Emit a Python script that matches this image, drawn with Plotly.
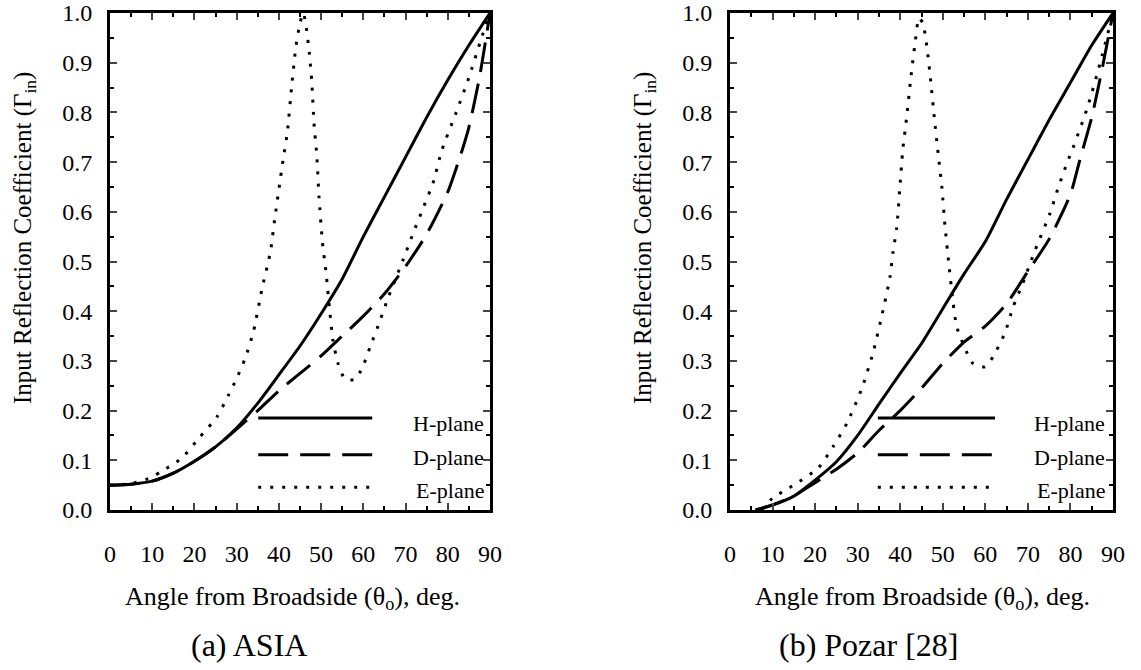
import plotly.graph_objects as go

# ---------------- data ----------------
# Panel (a) ASIA
h_a_x = [0, 5, 10, 15, 20, 25, 30, 35, 40, 45, 50, 55, 60, 65, 70, 75, 80, 85, 90]
h_a_y = [0.05, 0.052, 0.058, 0.074, 0.098, 0.127, 0.165, 0.215, 0.272, 0.33, 0.395, 0.465, 0.55, 0.63, 0.71, 0.79, 0.865, 0.935, 1.0]

d_a_x = [0, 5, 10, 15, 20, 25, 30, 35, 40, 45, 50, 55, 60, 65, 70, 75, 80, 83.4, 85, 87.5, 90]
d_a_y = [0.05, 0.052, 0.058, 0.074, 0.098, 0.127, 0.163, 0.2, 0.24, 0.275, 0.31, 0.35, 0.39, 0.435, 0.49, 0.555, 0.64, 0.724, 0.77, 0.87, 1.0]

e_a_x = [0, 5, 10, 12, 15, 17.3, 21.3, 25.3, 28, 30, 32, 34, 36, 38, 39, 40, 41, 42, 43, 44, 45, 45.8,
         46.5, 47.2, 47.8, 48.3, 49, 49.5, 50.3, 51.2, 52.1, 52.8, 54, 55.7, 58, 59.7, 61.6, 64, 66,
         69.4, 71.8, 74, 76.5, 78.6, 82, 85, 88, 90]
e_a_y = [0.05, 0.053, 0.066, 0.077, 0.092, 0.107, 0.147, 0.187, 0.23, 0.265, 0.305, 0.36, 0.445, 0.52, 0.585,
         0.645, 0.705, 0.76, 0.85, 0.93, 0.98, 1.0, 0.97, 0.92, 0.86, 0.78, 0.71, 0.63, 0.54, 0.475, 0.396,
         0.342, 0.295, 0.263, 0.263, 0.285, 0.328, 0.382, 0.43, 0.503, 0.557, 0.604, 0.658, 0.724, 0.8,
         0.87, 0.95, 1.0]

# Panel (b) Pozar [28]
h_b_x = [6, 10, 15, 20, 25, 30, 35, 40, 45, 50, 55, 60, 65, 70, 75, 80, 85, 90]
h_b_y = [0.0, 0.01, 0.028, 0.06, 0.097, 0.15, 0.213, 0.275, 0.335, 0.405, 0.475, 0.54, 0.625, 0.705, 0.785, 0.86, 0.935, 1.0]

d_b_x = [6, 10, 15, 20, 25, 30, 35, 40, 45, 50, 55, 60, 65, 70, 75, 80, 82.2, 85, 87.5, 90]
d_b_y = [0.0, 0.01, 0.028, 0.055, 0.082, 0.115, 0.16, 0.2, 0.245, 0.295, 0.338, 0.37, 0.415, 0.48, 0.545, 0.635, 0.704, 0.79, 0.89, 1.0]

e_b_x = [7.5, 10, 13, 15.7, 20.7, 24.2, 27.5, 31, 33.6, 35.7, 37.6, 38.3, 39.2, 39.9, 40.6, 41.5, 42.5, 43.5,
         44.4, 45.3, 46.3, 47.2, 48, 48.9, 49.8, 50.5, 51.5, 52.4, 53.3, 55.7, 57.1, 59.9, 61.8, 64.6, 66.5,
         68.8, 71.7, 75.2, 77.1, 79.2, 80.4, 84, 87, 90]
e_b_y = [0.0, 0.024, 0.04, 0.054, 0.084, 0.127, 0.175, 0.245, 0.316, 0.392, 0.469, 0.519, 0.569, 0.648, 0.724,
         0.79, 0.87, 0.94, 0.99, 0.98, 0.93, 0.86, 0.79, 0.718, 0.648, 0.573, 0.489, 0.419, 0.368, 0.316,
         0.295, 0.288, 0.308, 0.356, 0.408, 0.456, 0.523, 0.597, 0.648, 0.698, 0.724, 0.81, 0.9, 1.0]

x_ticks = [0, 10, 20, 30, 40, 50, 60, 70, 80, 90]
y_ticks = [0.0, 0.1, 0.2, 0.3, 0.4, 0.5, 0.6, 0.7, 0.8, 0.9, 1.0]
y_tick_text = ["0.0", "0.1", "0.2", "0.3", "0.4", "0.5", "0.6", "0.7", "0.8", "0.9", "1.0"]
series_names = ["H-plane", "D-plane", "E-plane"]
panel_titles = ["(a) ASIA", "(b) Pozar [28]"]

# ---------------- styles ----------------
FONT = "Liberation Serif, Times New Roman, serif"
DASHES = {"H-plane": "solid", "D-plane": "30px,12px", "E-plane": "3px,9px"}

fig = go.Figure()


def add_line(x, y, name, xa, ya):
    fig.add_trace(go.Scatter(
        x=x, y=y, mode="lines", name=name, showlegend=False,
        line=dict(color="black", width=3, dash=DASHES[name], shape="spline", smoothing=0.6),
        xaxis=xa, yaxis=ya, hoverinfo="skip"))


add_line(h_a_x, h_a_y, "H-plane", "x", "y")
add_line(d_a_x, d_a_y, "D-plane", "x", "y")
add_line(e_a_x, e_a_y, "E-plane", "x", "y")
add_line(h_b_x, h_b_y, "H-plane", "x2", "y2")
add_line(d_b_x, d_b_y, "D-plane", "x2", "y2")
add_line(e_b_x, e_b_y, "E-plane", "x2", "y2")

W, H = 1141, 670
ydom = [(H - 510) / H, (H - 13) / H]
xdom_a = [110 / W, 490 / W]
xdom_b = [730 / W, 1113 / W]

common_x = dict(range=[0, 90], tickvals=x_ticks, ticks="inside", ticklen=7, tickwidth=2,
                showline=True, linewidth=3, linecolor="black", mirror="allticks",
                showgrid=False, zeroline=False, fixedrange=True,
                minor=dict(dtick=5, ticks="inside", ticklen=4, tickwidth=1.5, tickcolor="black"),
                tickfont=dict(family=FONT, size=24, color="black"),
                ticklabelstandoff=20, automargin=False)
common_y = dict(range=[0, 1.0], tickvals=y_ticks, ticktext=y_tick_text, ticks="inside", ticklen=7,
                tickwidth=2, showline=True, linewidth=3, linecolor="black", mirror="allticks",
                showgrid=False, zeroline=False, fixedrange=True,
                minor=dict(dtick=0.05, ticks="inside", ticklen=4, tickwidth=1.5, tickcolor="black"),
                tickfont=dict(family=FONT, size=24, color="black"),
                ticklabelstandoff=10, automargin=False)

fig.update_layout(
    width=W, height=H, margin=dict(l=0, r=0, t=0, b=0),
    paper_bgcolor="white", plot_bgcolor="white",
    xaxis=dict(domain=xdom_a, anchor="y", **common_x),
    yaxis=dict(domain=ydom, anchor="x", **common_y),
    xaxis2=dict(domain=xdom_b, anchor="y2", **common_x),
    yaxis2=dict(domain=ydom, anchor="x2", **common_y),
)

# ---------- in-plot legend (drawn per panel) ----------
legend_y = [0.185, 0.111, 0.046]
legend_text_y = [0.175, 0.105, 0.04]
shapes = []
annotations = []
for xr, yr, x0, x1, tx in [("x domain", "y domain", 0.39, 0.69, 0.99),
                           ("x2 domain", "y2 domain", 0.386, 0.692, 0.985)]:
    for name, ly, ty in zip(series_names, legend_y, legend_text_y):
        shapes.append(dict(type="line", xref=xr, yref=yr, x0=x0, x1=x1, y0=ly, y1=ly,
                           line=dict(color="black", width=3, dash=DASHES[name])))
        annotations.append(dict(text=name, xref=xr, yref=yr, x=tx, y=ty, xanchor="right",
                                yanchor="middle", showarrow=False,
                                font=dict(family=FONT, size=22, color="black")))

# ---------- axis titles and panel captions ----------
xtitle = "Angle from Broadside (θ<sub>o</sub>), deg."
ytitle = "Input Reflection Coefficient (Γ<sub>in</sub>)"
for cx, ycx, capx, cap in [(292, 24, 249, panel_titles[0]), (922, 644, 868, panel_titles[1])]:
    annotations.append(dict(text=xtitle, xref="paper", yref="paper", x=cx / W, y=(H - 598) / H,
                            xanchor="center", yanchor="middle", showarrow=False,
                            font=dict(family=FONT, size=26, color="black")))
    annotations.append(dict(text=ytitle, xref="paper", yref="paper", x=ycx / W, y=(H - 238) / H,
                            xanchor="center", yanchor="middle", showarrow=False, textangle=-90,
                            font=dict(family=FONT, size=25, color="black")))
    annotations.append(dict(text=cap, xref="paper", yref="paper", x=capx / W, y=(H - 645) / H,
                            xanchor="center", yanchor="middle", showarrow=False,
                            font=dict(family=FONT, size=32, color="black")))

fig.update_layout(shapes=shapes, annotations=annotations)
fig.write_html("out.html")
